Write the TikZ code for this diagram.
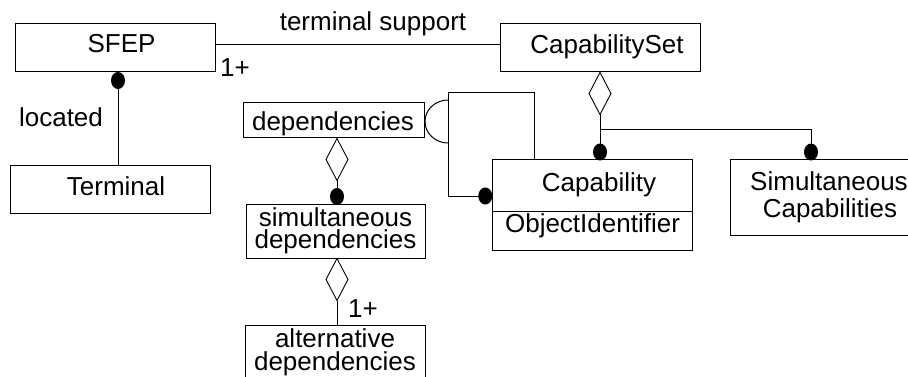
\documentclass[tikz,border=0pt]{standalone}
\usepackage{fontspec}
\setmainfont{Liberation Sans}
\usetikzlibrary{calc}
\begin{document}
\begin{tikzpicture}[x=1pt,y=-1pt,
  box/.style={draw,line width=1pt,inner sep=0pt},
  twoline/.style={box,align=center,font=\fontsize{26}{#1}\selectfont},
  lbl/.style={inner sep=0pt,anchor=base,font=\fontsize{26}{26}\selectfont},
  conn/.style={line width=1pt},
  aggdiamond/.pic={
    \draw[line width=0.9pt,fill=white] (0,0) -- (11,21) -- (0,42) -- (-11,21) -- cycle;
    \coordinate (-tip) at (0,42);},
  solidend/.pic={\fill (0,0) ellipse [x radius=7,y radius=8.5];}]
\useasboundingbox (0,0) rectangle (908,377);
\clip (0,0) rectangle (908,377);

% classes
\node[box,minimum width=200,minimum height=48] (sfep) at (115,48) {};
\node[box,minimum width=200,minimum height=47] (terminal) at (110,189.5) {};
\node[box,minimum width=200,minimum height=48] (capset) at (600,48) {};
\node[box,minimum width=199.5,minimum height=51] (cap) at (592.5,185.5) {};
\node[box,minimum width=199.5,minimum height=39] (objid) at (592.5,230.5) {};
\node[twoline=27.5,minimum width=200,minimum height=75] (simcap) at (830,197.5)
  {\hspace*{-2pt}Simultaneous\\Capabilities};
\node[box,minimum width=181,minimum height=35] (deps) at (333.5,120.5) {};
\node[twoline=22.5,minimum width=179,minimum height=54] (simdeps) at (335.5,231)
  {simultaneous\\dependencies};
\node[twoline=23,minimum width=180,minimum height=54] (altdeps) at (335,352)
  {alternative\\dependencies};
\draw[line width=1.8pt] (cap.south west) -- (cap.south east);

% class names
\node[lbl] (tsfep) at (121.5,53) {SFEP};
\node[lbl] (tterminal) at (116,195) {Terminal};
\node[lbl] (tcapset) at (607,54) {CapabilitySet};
\node[lbl] (tcap) at (599,192) {Capability};
\node[lbl] (tobjid) at (592.5,233) {ObjectIdentifier};
\node[lbl] (tdeps) at (333,131) {dependencies};

% terminal support association
\draw[conn] ([yshift=3]sfep.east) -- ([yshift=3]capset.west);
\node[lbl] (tsupport) at (373,31) {terminal support};
\node[lbl,anchor=base west] (mult1) at (220,77) {1+};

% located
\draw[conn] ([xshift=3]sfep.south) -- ([xshift=3]sfep.south |- terminal.north);
\pic at ([xshift=3,yshift=-8]sfep.south) {solidend};
\node[lbl] (tlocated) at (61,127) {located};

% CapabilitySet aggregation
\pic (cd) at (capset.south) {aggdiamond};
\coordinate (split) at (600,130);
\draw[conn] (cd-tip) -- (split) -| ([xshift=-19]simcap.north);
\draw[conn] (split) -- ([xshift=7.5]cap.north);
\pic at (600,152) {solidend};
\pic at (811,152) {solidend};

% dependencies constraint bracket
\coordinate (bt) at (448,93);
\coordinate (bb) at (448,196);
\draw[conn] ([xshift=-58.5]cap.north) |- (bt) -- (bb) -- ([xshift=-7]cap.west |- bb);
\pic at ([xshift=-7]cap.west |- bb) {solidend};
\draw[conn] (448,100) arc[start angle=270,end angle=90,x radius=23,y radius=21.5];

% dependencies aggregations
\pic (dd) at ([xshift=3.5]deps.south) {aggdiamond};
\draw[conn] (dd-tip) -- ([xshift=1.5]simdeps.north);
\pic at (337,196.5) {solidend};
\pic (sd) at ([xshift=1.5]simdeps.south) {aggdiamond};
\draw[conn] (sd-tip) -- ([xshift=2]altdeps.north);
\node[lbl,anchor=base west] (mult2) at (348,317) {1+};
\end{tikzpicture}
\end{document}
